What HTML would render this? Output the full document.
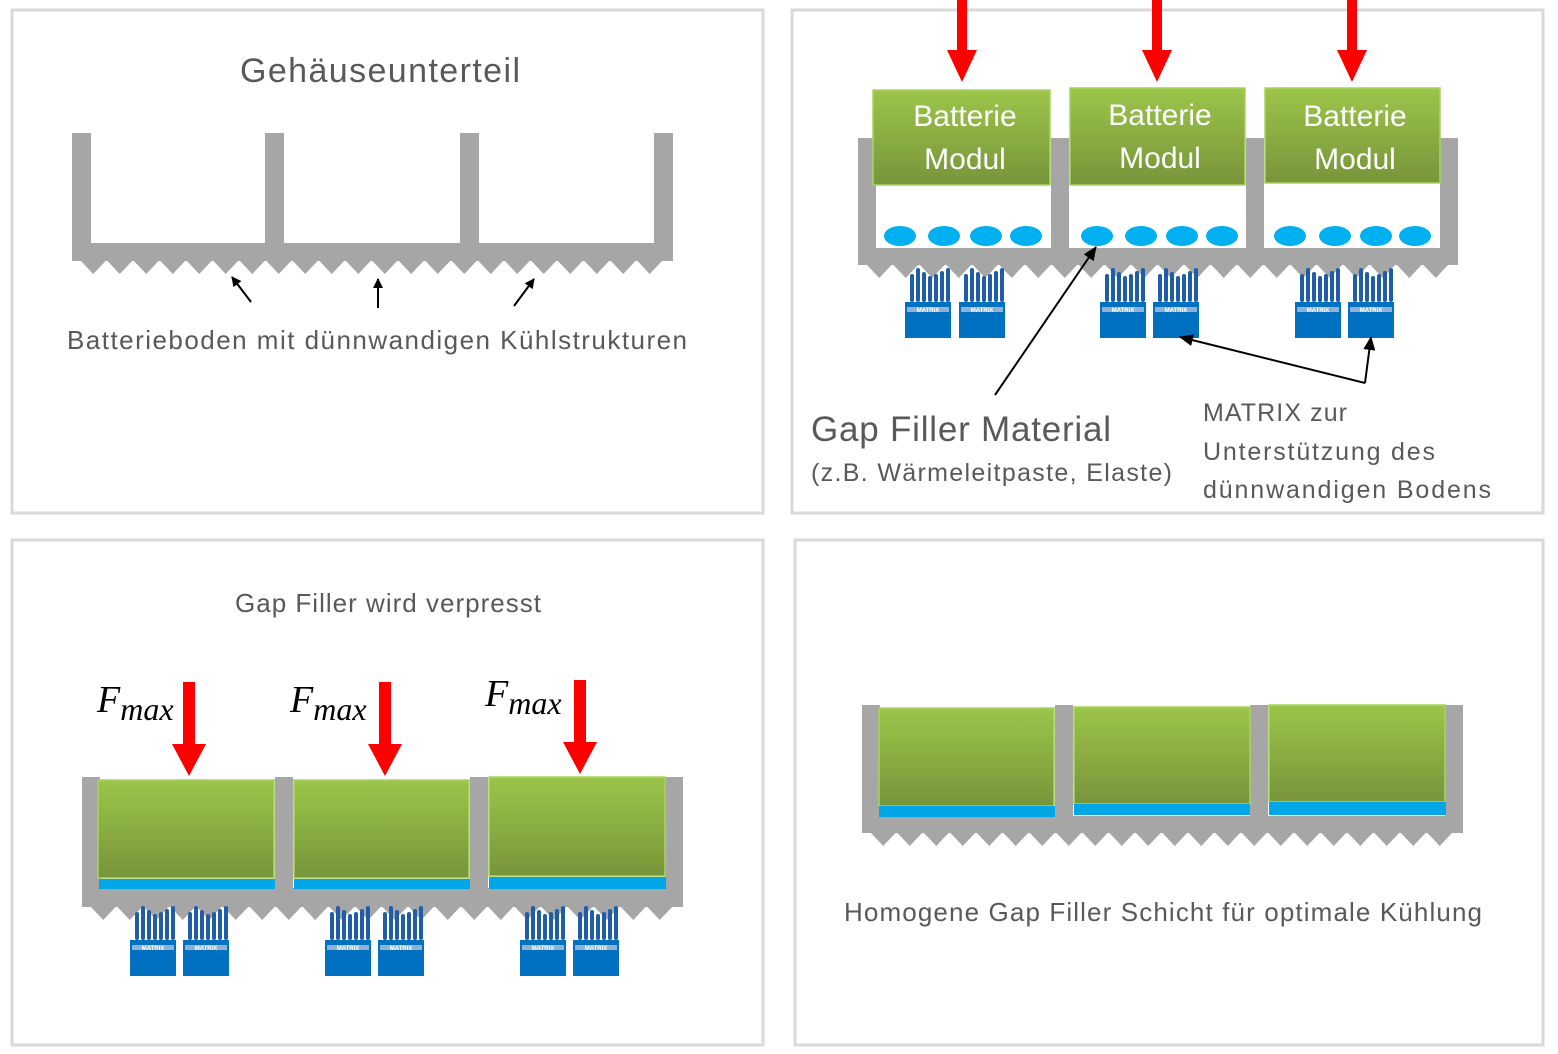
<!DOCTYPE html>
<html><head><meta charset="utf-8">
<style>
html,body{margin:0;padding:0;background:#fff;}
svg{display:block;}
text{font-family:"Liberation Sans",sans-serif;fill:#595959;}
</style></head>
<body>
<svg id="s" width="1558" height="1054" viewBox="0 0 1558 1054" xmlns="http://www.w3.org/2000/svg">
<defs>
<linearGradient id="g" x1="0" y1="0" x2="0" y2="1">
<stop offset="0" stop-color="#9cc54a"/><stop offset="1" stop-color="#77953a"/>
</linearGradient>
<marker id="ah" markerWidth="10" markerHeight="10" refX="9" refY="5" orient="auto" markerUnits="userSpaceOnUse">
<path d="M0,0 L10,5 L0,10 Z" fill="#000"/></marker>
<marker id="ah2" markerWidth="14" markerHeight="12" refX="13" refY="6" orient="auto" markerUnits="userSpaceOnUse">
<path d="M0,0 L14,6 L0,12 Z" fill="#000"/></marker>
</defs>
<g fill="none" stroke="#d9d9d9" stroke-width="3">
<rect x="12" y="10" width="751" height="503"/>
<rect x="792" y="10" width="751" height="503"/>
<rect x="12" y="540" width="751" height="505"/>
<rect x="795" y="540" width="748" height="505"/>
</g>
<g id="shapes"></g>

<text x="380" y="82" font-size="34" text-anchor="middle" textLength="280">Gehäuseunterteil</text>
<text x="67" y="349" font-size="26" textLength="620">Batterieboden mit dünnwandigen Kühlstrukturen</text>
<g stroke="#000" stroke-width="2">
<line x1="251" y1="302" x2="232" y2="277" marker-end="url(#ah)"/>
<line x1="378" y1="308" x2="378" y2="279" marker-end="url(#ah)"/>
<line x1="514" y1="306" x2="534" y2="279" marker-end="url(#ah)"/>
</g>

<g>
<text x="965" y="126" font-size="30" text-anchor="middle" style="fill:#fff">Batterie</text>
<text x="965" y="169" font-size="30" text-anchor="middle" style="fill:#fff">Modul</text>
<text x="1160" y="125" font-size="30" text-anchor="middle" style="fill:#fff">Batterie</text>
<text x="1160" y="168" font-size="30" text-anchor="middle" style="fill:#fff">Modul</text>
<text x="1355" y="126" font-size="30" text-anchor="middle" style="fill:#fff">Batterie</text>
<text x="1355" y="169" font-size="30" text-anchor="middle" style="fill:#fff">Modul</text>
</g>
<text x="811" y="441" font-size="35" textLength="300">Gap Filler Material</text>
<text x="811" y="481" font-size="25" textLength="361">(z.B. Wärmeleitpaste, Elaste)</text>
<text x="1203" y="421" font-size="25" textLength="144">MATRIX zur</text>
<text x="1203" y="460" font-size="25" textLength="232">Unterstützung des</text>
<text x="1203" y="498" font-size="25" textLength="288">dünnwandigen Bodens</text>
<g stroke="#000" stroke-width="2" fill="none">
<line x1="995" y1="395" x2="1096" y2="247" marker-end="url(#ah2)"/>
<line x1="1365" y1="383" x2="1180" y2="337" marker-end="url(#ah2)"/>
<line x1="1365" y1="383" x2="1371" y2="337" marker-end="url(#ah2)"/>
</g>

<text x="388" y="612" font-size="26" text-anchor="middle" textLength="306">Gap Filler wird verpresst</text>
<text x="97" y="712" font-size="38" font-style="italic" style="font-family:'Liberation Serif',serif;fill:#000">F<tspan font-size="32" dy="8">max</tspan></text>
<text x="290" y="712" font-size="38" font-style="italic" style="font-family:'Liberation Serif',serif;fill:#000">F<tspan font-size="32" dy="8">max</tspan></text>
<text x="485" y="706" font-size="38" font-style="italic" style="font-family:'Liberation Serif',serif;fill:#000">F<tspan font-size="32" dy="8">max</tspan></text>

<text x="1163" y="921" font-size="26" text-anchor="middle" textLength="638">Homogene Gap Filler Schicht für optimale Kühlung</text>
</svg>
<script>
var G=document.getElementById('shapes'),h='';
var gray='#a6a6a6';
function r(x,y,w,hh,f,ex){h+='<rect x="'+x+'" y="'+y+'" width="'+w+'" height="'+hh+'" fill="'+f+'" '+(ex||'')+'/>';}
function teeth(x1,x2,y,d){var p='M'+x1+','+y;var w=26.5;for(var x=x1;x+w<=x2+1;x+=w){p+=' L'+(x+w/2)+','+(y+d)+' L'+(x+w)+','+y;}h+='<path d="'+p+' Z" fill="'+gray+'"/>';}
function tray(x1,x2,top,fy,fb,walls,ww){
  r(x1,top,ww,fb-top,gray);r(x2-ww,top,ww,fb-top,gray);r(x1,fy,x2-x1,fb-fy,gray);
  walls.forEach(function(w){r(w,top,ww,fb-top,gray);});
  teeth(x1+8,x2-8,fb-1,14);
}
function arrow(cx,y1,y2,sw,hw,hh){h+='<path d="M'+(cx-sw/2)+','+y1+' L'+(cx+sw/2)+','+y1+' L'+(cx+sw/2)+','+(y2-hh)+' L'+(cx+hw/2)+','+(y2-hh)+' L'+cx+','+y2+' L'+(cx-hw/2)+','+(y2-hh)+' L'+(cx-sw/2)+','+(y2-hh)+' Z" fill="#ff0000"/>';}
function matrix(x,y){
  var fx=[5,11,17,23,29,35,41];var fh=[28,34,30,26,28,31,34];
  for(var i=0;i<7;i++){h+='<rect x="'+(x+fx[i])+'" y="'+(y-fh[i])+'" width="4" height="'+fh[i]+'" rx="2" fill="#1f5da8"/>';}
  r(x,y,46,36,'#0070c0');
  h+='<rect x="'+(x+2)+'" y="'+(y+5)+'" width="42" height="5" fill="#8fb1d6"/>';
  h+='<text x="'+(x+23)+'" y="'+(y+10)+'" font-size="6" text-anchor="middle" style="fill:#fff;font-weight:bold">MATRIX</text>';
}
function mod(x,y,w,hh){h+='<rect x="'+x+'" y="'+y+'" width="'+w+'" height="'+hh+'" fill="url(#g)" stroke="#a9d45e" stroke-width="1.5"/>';}
tray(72,673,133,243,261,[265,460],19);
tray(858,1458,138,248,265,[1051,1246],18);
r(876,185,174,63,'#fff');r(1070,185,176,63,'#fff');r(1265,183,175,65,'#fff');
mod(873,90,177,95);mod(1070,88,175,97);mod(1265,88,175,95);
[900,944,986,1026,1097,1141,1182,1222,1290,1335,1376,1415].forEach(function(x){h+='<ellipse cx="'+x+'" cy="236" rx="16" ry="10" fill="#00b0f0"/>';});
arrow(962,0,82,10,30,32);arrow(1157,0,82,10,30,32);arrow(1352,0,82,10,30,32);
[905,959,1100,1153,1295,1348].forEach(function(x){matrix(x,302);});
tray(82,683,777,888,907,[275,470],18);
mod(98,780,176,98);mod(294,780,175,98);mod(489,777,176,99);
r(99,879,176,10,'#00a6e6');r(294,879,176,10,'#00a6e6');r(489,877,177,12,'#00a6e6');
arrow(189,682,776,12,34,32);arrow(385,682,776,12,34,32);arrow(580,680,774,12,34,32);
[130,183,325,378,520,573].forEach(function(x){matrix(x,940);});
tray(862,1463,705,816,833,[1055,1250],18);
mod(879,708,175,98);mod(1074,707,176,97);mod(1269,705,176,97);
r(879,806,176,11,'#00a6e6');r(1074,804,176,11,'#00a6e6');r(1269,802,177,13,'#00a6e6');
G.innerHTML=h;
</script>
</body></html>
